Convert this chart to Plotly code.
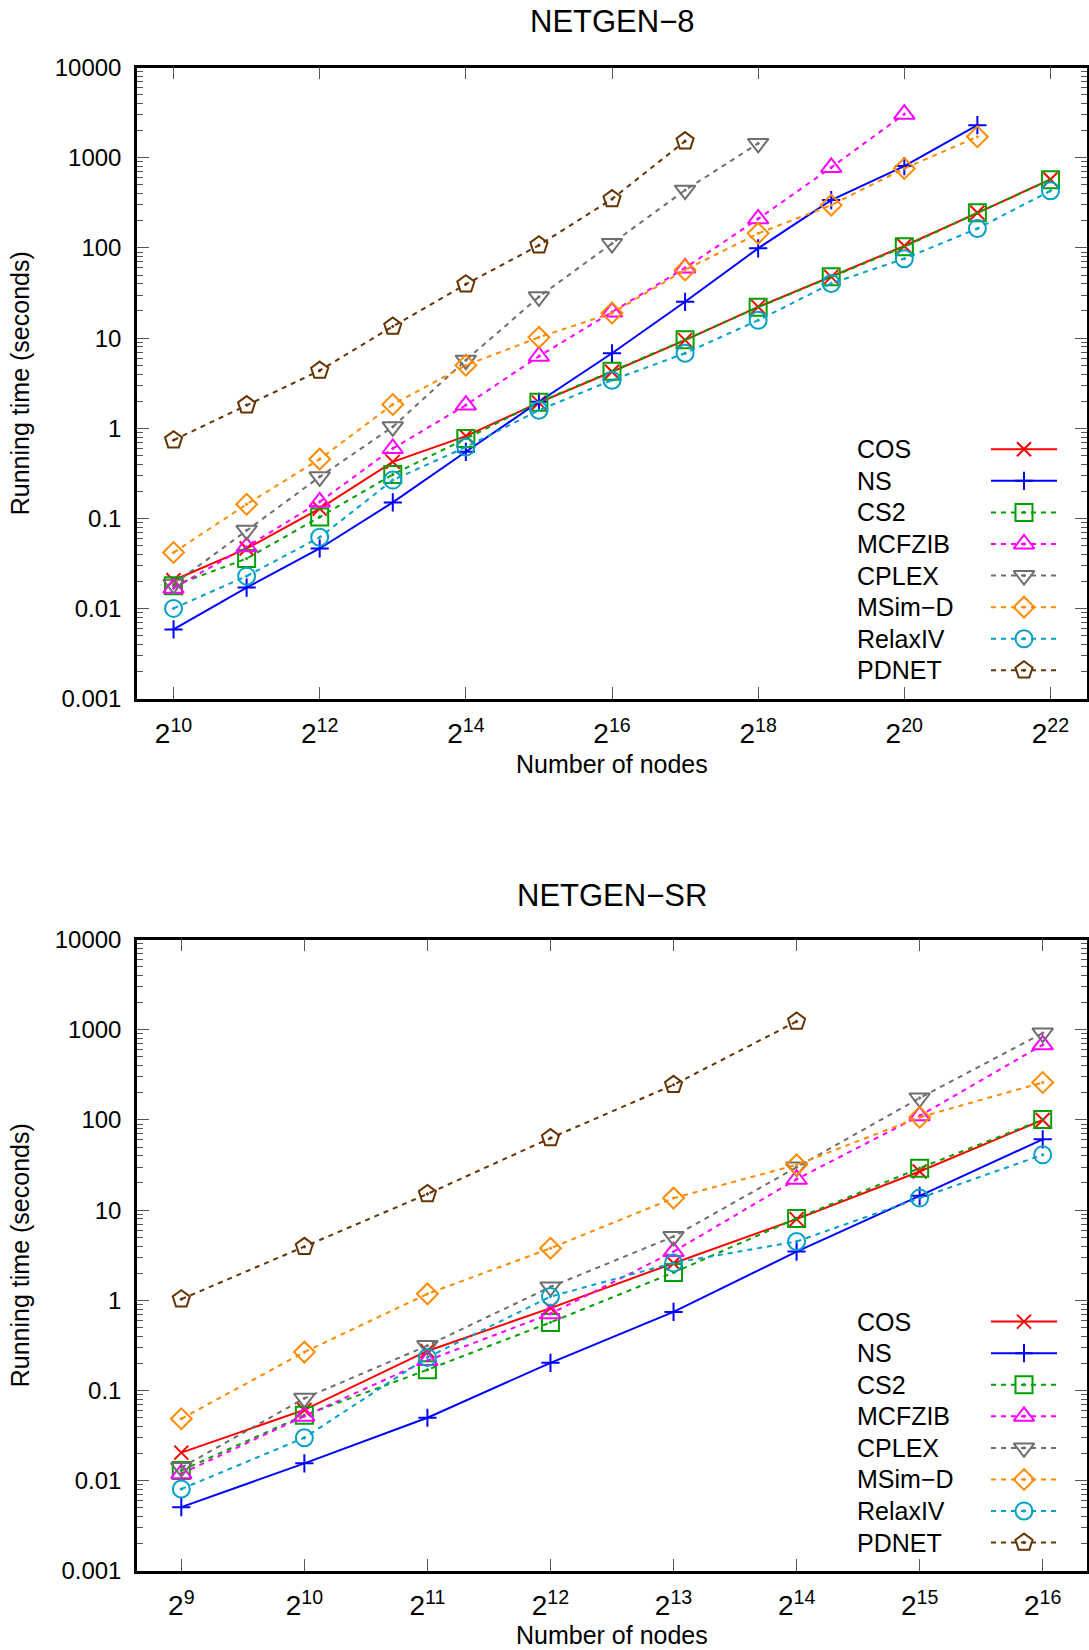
import math
import plotly.graph_objects as go

# ---------------- data ----------------
NAMES = ["COS", "NS", "CS2", "MCFZIB", "CPLEX", "MSim\u2212D", "RelaxIV", "PDNET"]

# NETGEN-8: x = 2^exp nodes
EXP_8 = list(range(10, 23))
COS_8 = [0.0207, 0.0465, 0.129, 0.425, 0.82, 1.93, 4.24, 9.5, 22.2, 47.8, 105, 245, 574]
NS_8 = [0.0059, 0.0172, 0.0466, 0.151, 0.55, 1.97, 6.8, 25.3, 99, 339, 807, 2297]
CS2_8 = [0.018, 0.036, 0.104, 0.308, 0.77, 1.95, 4.3, 9.6, 22, 48, 103, 245, 570]
MCFZIB_8 = [0.0169, 0.0486, 0.153, 0.598, 1.81, 6.3, 19.5, 60, 210, 780, 3040]
CPLEX_8 = [0.0187, 0.074, 0.29, 1.04, 5.7, 28.7, 112, 437, 1440]
MSIMD_8 = [0.042, 0.144, 0.456, 1.84, 5.0, 10.2, 19.0, 57, 145, 298, 760, 1706]
RELAXIV_8 = [0.0101, 0.023, 0.062, 0.267, 0.62, 1.59, 3.42, 6.8, 15.8, 40.4, 76, 164, 430]
PDNET_8 = [0.74, 1.81, 4.37, 13.5, 39.6, 107, 348, 1528]

# NETGEN-SR
EXP_SR = list(range(9, 17))
COS_SR = [0.0205, 0.061, 0.275, 0.82, 2.58, 7.95, 26.8, 100]
NS_SR = [0.0051, 0.0156, 0.05, 0.203, 0.745, 3.47, 14.4, 61]
CS2_SR = [0.013, 0.0533, 0.17, 0.57, 2.03, 8.1, 29.2, 101]
MCFZIB_SR = [0.012, 0.052, 0.215, 0.71, 3.47, 22.0, 111, 680]
CPLEX_SR = [0.014, 0.082, 0.315, 1.41, 5.1, 30, 175, 917]
MSIMD_SR = [0.0487, 0.267, 1.18, 3.78, 13.6, 31.8, 107, 260]
RELAXIV_SR = [0.0081, 0.030, 0.233, 1.1, 2.6, 4.49, 13.6, 41]
PDNET_SR = [1.03, 3.92, 15.1, 62.9, 245, 1233]

TOP_TICK_EXP = [10, 12, 14, 16, 18, 20, 22]
BOT_TICK_EXP = [9, 10, 11, 12, 13, 14, 15, 16]
Y_TICKS = [0.001, 0.01, 0.1, 1, 10, 100, 1000, 10000]
Y_TICK_TEXT = ["0.001", "0.01", "0.1", "1", "10", "100", "1000", "10000"]

# ---------------- styles ----------------
COLORS = ["#ff0000", "#0000ff", "#00a000", "#ff00ff", "#6e6e6e", "#ff8a00", "#00a0c8", "#663300"]
DASHES = ["solid", "solid", "5px,5px", "5px,5px", "5px,5px", "5px,5px", "5px,5px", "5px,5px"]
SYMBOLS = ["x-thin", "cross-thin", "square-open-dot", "triangle-up-open-dot",
           "triangle-down-open-dot", "diamond-open-dot", "circle-open-dot", "pentagon-open-dot"]
SIZES = [14, 13, 17, 18, 18, 16, 17, 18]

FONT = "Liberation Sans, Arial, sans-serif"
W, H = 1089, 1650

# frame geometry (pixels)
FX0, FX1 = 137, 1087
TOP_Y0, TOP_Y1 = 67.5, 699
BOT_Y0, BOT_Y1 = 939.5, 1571

L2 = math.log10(2)

fig = go.Figure()

top_series = [COS_8, NS_8, CS2_8, MCFZIB_8, CPLEX_8, MSIMD_8, RELAXIV_8, PDNET_8]
bot_series = [COS_SR, NS_SR, CS2_SR, MCFZIB_SR, CPLEX_SR, MSIMD_SR, RELAXIV_SR, PDNET_SR]


def add_series(series_list, exps, xa, ya):
    for i, vals in enumerate(series_list):
        xs = [2 ** e for e in exps[:len(vals)]]
        fig.add_trace(go.Scatter(
            x=xs, y=vals, mode="lines+markers", name=NAMES[i], showlegend=False,
            xaxis=xa, yaxis=ya, cliponaxis=False,
            line=dict(color=COLORS[i], width=2, dash=DASHES[i]),
            marker=dict(symbol=SYMBOLS[i], size=SIZES[i], color=COLORS[i],
                        line=dict(color=COLORS[i], width=2)),
        ))


add_series(top_series, EXP_8, "x", "y")
add_series(bot_series, EXP_SR, "x2", "y2")

# ---------------- custom legends (text left, key right, as in gnuplot) ----------------
LEG_TEXT_X = 855
LEG_X0, LEG_XM, LEG_X1 = 991, 1024, 1057
LEG_STEP = 31.57
LEG_TOP_START = 449.3
LEG_BOT_START = 1321.6

annotations = []
for start in (LEG_TOP_START, LEG_BOT_START):
    for i, name in enumerate(NAMES):
        ry = start + i * LEG_STEP
        fig.add_trace(go.Scatter(
            x=[LEG_X0, LEG_X1], y=[ry, ry], mode="lines", showlegend=False,
            xaxis="x3", yaxis="y3", hoverinfo="skip",
            line=dict(color=COLORS[i], width=2, dash=DASHES[i])))
        fig.add_trace(go.Scatter(
            x=[LEG_XM], y=[ry], mode="markers", showlegend=False,
            xaxis="x3", yaxis="y3", hoverinfo="skip",
            marker=dict(symbol=SYMBOLS[i], size=SIZES[i], color=COLORS[i],
                        line=dict(color=COLORS[i], width=2))))
        annotations.append(dict(
            x=LEG_TEXT_X, y=ry, xref="x3", yref="y3", text=name, showarrow=False,
            xanchor="left", yanchor="middle", font=dict(family=FONT, size=25, color="black")))

# chart titles
for txt, ty in (("NETGEN\u22128", 21), ("NETGEN\u2212SR", 895.5)):
    annotations.append(dict(
        x=(FX0 + FX1) / 2, y=ty, xref="x3", yref="y3", text=txt, showarrow=False,
        xanchor="center", yanchor="middle", font=dict(family=FONT, size=31, color="black")))

# x-axis titles
for ty in (764, 1635):
    annotations.append(dict(
        x=(FX0 + FX1) / 2, y=ty, xref="x3", yref="y3", text="Number of nodes", showarrow=False,
        xanchor="center", yanchor="middle", font=dict(family=FONT, size=25, color="black")))


def px_dom_x(a, b):
    return [a / W, b / W]


def px_dom_y(top, bottom):
    return [1 - bottom / H, 1 - top / H]


axis_common = dict(
    showline=True, linewidth=2.5, linecolor="black", mirror="allticks",
    ticks="inside", ticklen=12, tickwidth=1, tickcolor="#555555",
    showgrid=False, zeroline=False, automargin=False,
)
xfont = dict(family=FONT, size=28, color="black")
yfont = dict(family=FONT, size=24, color="black")

minor_y = dict(
    tickvals=[m * 10 ** d for d in range(-3, 4) for m in range(2, 10)],
    ticks="inside", ticklen=6, tickwidth=1, tickcolor="#555555", showgrid=False,
)

ytitle = dict(text="Running time (seconds)", font=dict(family=FONT, size=25, color="black"), standoff=18)

fig.update_layout(
    width=W, height=H, margin=dict(l=0, r=0, t=0, b=0, autoexpand=False),
    paper_bgcolor="white", plot_bgcolor="rgba(0,0,0,0)",
    font=dict(family=FONT, color="black"),
    showlegend=False,
    xaxis=dict(domain=px_dom_x(FX0, FX1), anchor="y", type="log",
               range=[9.5 * L2, 22.5 * L2],
               tickvals=[2 ** e for e in TOP_TICK_EXP],
               ticktext=[f"2<sup>{e}</sup>" for e in TOP_TICK_EXP],
               tickfont=xfont, ticklabelstandoff=8, **axis_common),
    yaxis=dict(domain=px_dom_y(TOP_Y0, TOP_Y1), anchor="x", type="log",
               range=[-3, 4], tickvals=Y_TICKS, ticktext=Y_TICK_TEXT,
               tickfont=yfont, ticklabelstandoff=8,
               minor=minor_y, title=ytitle, **axis_common),
    xaxis2=dict(domain=px_dom_x(FX0, FX1), anchor="y2", type="log",
                range=[8.64 * L2, 16.36 * L2],
                tickvals=[2 ** e for e in BOT_TICK_EXP],
                ticktext=[f"2<sup>{e}</sup>" for e in BOT_TICK_EXP],
                tickfont=xfont, ticklabelstandoff=8, **axis_common),
    yaxis2=dict(domain=px_dom_y(BOT_Y0, BOT_Y1), anchor="x2", type="log",
                range=[-3, 4], tickvals=Y_TICKS, ticktext=Y_TICK_TEXT,
                tickfont=yfont, ticklabelstandoff=8,
                minor=minor_y, title=ytitle, **axis_common),
    xaxis3=dict(domain=[0, 1], anchor="y3", range=[0, W], visible=False,
                fixedrange=True, automargin=False),
    yaxis3=dict(domain=[0, 1], anchor="x3", range=[H, 0], visible=False,
                fixedrange=True, automargin=False),
    annotations=annotations,
)

fig.write_html("out.html")
